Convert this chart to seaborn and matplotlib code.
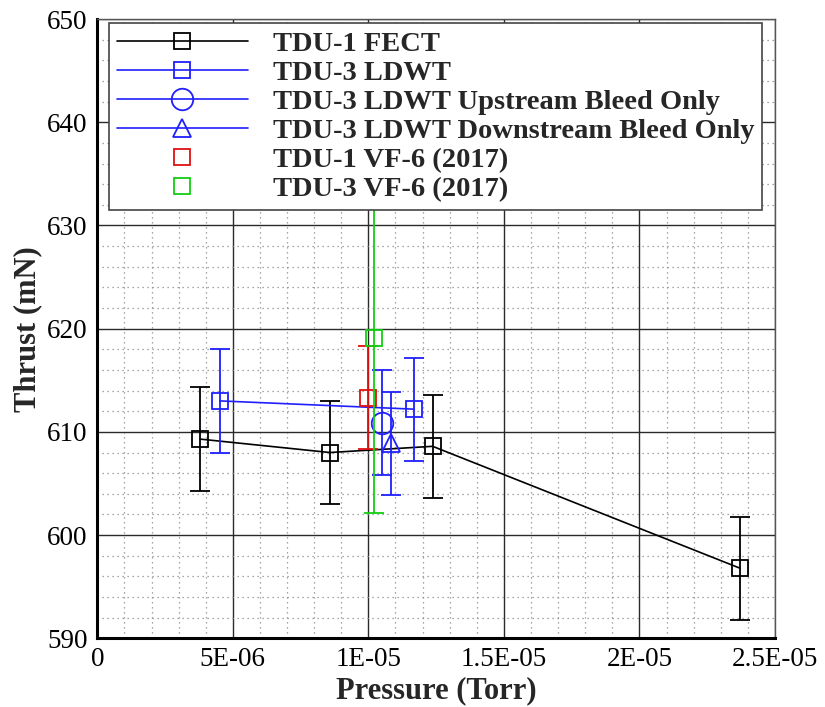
import numpy as np
import matplotlib
matplotlib.use("Agg")
import matplotlib.pyplot as plt
from matplotlib.lines import Line2D
from matplotlib.ticker import MultipleLocator
import seaborn as sns

# ---- data ----
fect_p = [3.79e-6, 8.58e-6, 12.37e-6, 23.7e-6]
fect_t = [609.3, 608.0, 608.6, 596.8]
fect_err = [5.0, 5.0, 5.0, 5.0]

ldwt_p = [4.52e-6, 11.68e-6]
ldwt_t = [613.0, 612.2]
ldwt_err = [5.0, 5.0]

up_p = [10.49e-6]
up_t = [610.9]
up_err = [5.1]

down_p = [10.82e-6]
down_t = [608.9]
down_err = [5.0]

vf1_p = [10.0e-6]
vf1_t = [613.3]
vf1_err = [5.0]

vf3_p = [10.2e-6]
vf3_t = [619.1]
vf3_err = [17.0]

x_ticks = [0, 5e-6, 1e-5, 1.5e-5, 2e-5, 2.5e-5]
x_ticklabels = ["0", "5E-06", "1E-05", "1.5E-05", "2E-05", "2.5E-05"]
y_ticks = [590, 600, 610, 620, 630, 640, 650]

labels = ["TDU-1 FECT", "TDU-3 LDWT", "TDU-3 LDWT Upstream Bleed Only",
          "TDU-3 LDWT Downstream Bleed Only", "TDU-1 VF-6 (2017)", "TDU-3 VF-6 (2017)"]

BLUE = "#1f1fff"
RED = "#e01010"
GREEN = "#10d010"

sns.set_style("white")
plt.rcParams["font.family"] = ["Liberation Serif", "DejaVu Serif"]

fig = plt.figure(figsize=(8.25, 7.07), dpi=100)
ax = fig.add_axes([97.3 / 825, (707 - 638.3) / 707, (775 - 97.3) / 825, (638.3 - 19) / 707])

series = [
    (fect_p, fect_t, fect_err, "black", "s", 11.8, "-"),
    (ldwt_p, ldwt_t, ldwt_err, BLUE, "s", 11.8, "-"),
    (up_p, up_t, up_err, BLUE, "o", 15.5, "-"),
    (down_p, down_t, down_err, BLUE, "^", 13.5, "-"),
    (vf1_p, vf1_t, vf1_err, RED, "s", 11.8, "none"),
    (vf3_p, vf3_t, vf3_err, GREEN, "s", 11.8, "none"),
]

for i, (p, t, e, c, m, ms, ls) in enumerate(series):
    ax.errorbar(p, t, yerr=e, fmt="none", ecolor=c, elinewidth=1.3,
                capsize=7.5, capthick=1.3, zorder=3 + i)
    sns.lineplot(x=p, y=t, ax=ax, color=c, marker=m, markersize=ms,
                 markerfacecolor="none", markeredgecolor=c, markeredgewidth=1.3,
                 linewidth=1.2, estimator=None, sort=False, errorbar=None,
                 zorder=3 + i)

ax.set_xlim(0, 2.5e-5)
ax.set_ylim(590, 650)
ax.set_xticks(x_ticks)
ax.set_xticklabels(x_ticklabels)
ax.set_yticks(y_ticks)
ax.xaxis.set_minor_locator(MultipleLocator(1e-6))
ax.yaxis.set_minor_locator(MultipleLocator(2))

ax.grid(which="major", color="#2a2a2a", linewidth=1.0, linestyle="-")
ax.grid(which="minor", color="#8a8a8a", linewidth=0.9, linestyle=(0, (1, 3)))
ax.set_axisbelow(True)

for side in ["left", "bottom"]:
    ax.spines[side].set_color("black")
    ax.spines[side].set_linewidth(2.2)
for side in ["top", "right"]:
    ax.spines[side].set_color("#555555")
    ax.spines[side].set_linewidth(1.0)

ax.tick_params(which="major", direction="in", length=9, width=2, labelsize=19.5,
               colors="black", pad=7)
ax.tick_params(which="minor", direction="in", length=5.5, width=1, colors="black")
ax.tick_params(axis="x", which="major", pad=6)

ax.set_xlabel("Pressure (Torr)", fontsize=22, fontweight="bold", labelpad=3.5)
ax.set_ylabel("Thrust (mN)", fontsize=22, fontweight="bold", labelpad=3.5)

handles = []
for p, t, e, c, m, ms, ls in series:
    handles.append(Line2D([], [], color=c, marker=m, markersize=ms, markerfacecolor="none",
                          markeredgecolor=c, markeredgewidth=1.3, linewidth=1.2, linestyle=ls))

leg = ax.legend(handles, labels, loc="upper left", bbox_to_anchor=(0.0173, 0.994),
                borderaxespad=0, frameon=True, fancybox=False, framealpha=1,
                edgecolor="#444444", prop={"weight": "bold", "size": 20.5},
                handlelength=4.6, handletextpad=0.88, labelspacing=0.11,
                borderpad=0.28)
leg.get_frame().set_linewidth(1.2)
leg.set_zorder(20)

fig.savefig("out.png", dpi=100)
